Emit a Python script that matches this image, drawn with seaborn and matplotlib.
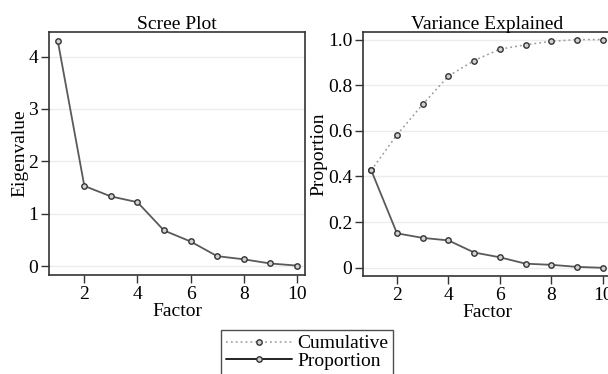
import matplotlib
matplotlib.use("Agg")
import matplotlib.pyplot as plt
import seaborn as sns
import pandas as pd
from matplotlib.lines import Line2D
from matplotlib.ticker import FuncFormatter

factors = [1, 2, 3, 4, 5, 6, 7, 8, 9, 10]
eigenvalues = [4.30, 1.53, 1.33, 1.22, 0.68, 0.47, 0.19, 0.13, 0.05, 0.01]
cumulative = [0.427, 0.583, 0.716, 0.840, 0.908, 0.958, 0.977, 0.992, 1.0, 1.0]
proportion = [0.427, 0.151, 0.131, 0.120, 0.067, 0.046, 0.018, 0.013, 0.004, 0.0]

sns.set_theme(style="white")
plt.rcParams['font.family'] = ['Liberation Serif', 'DejaVu Serif']
plt.rcParams['font.size'] = 14
plt.rcParams['text.color'] = 'black'
plt.rcParams['axes.labelcolor'] = 'black'
plt.rcParams['xtick.color'] = 'black'
plt.rcParams['ytick.color'] = 'black'

fig = plt.figure(figsize=(6.08, 3.74), dpi=100)
ax1 = fig.add_axes([0.0806, 0.2647, 0.421, 0.65])
ax2 = fig.add_axes([0.5975, 0.262, 0.407, 0.653])

line_c = "#5a5a5a"
mk = dict(marker="o", markersize=3.9, markerfacecolor="#d0d0d0",
          markeredgecolor="#333333", markeredgewidth=1.0)

df1 = pd.DataFrame({"Factor": factors, "Eigenvalue": eigenvalues})
sns.lineplot(data=df1, x="Factor", y="Eigenvalue", ax=ax1, color=line_c,
             linewidth=1.3, **mk)

df2 = pd.DataFrame({"Factor": factors, "Cumulative": cumulative, "Proportion": proportion})
sns.lineplot(data=df2, x="Factor", y="Cumulative", ax=ax2, color="#9a9a9a",
             linewidth=1.1, linestyle=(0, (1.2, 2.0)), **mk)
sns.lineplot(data=df2, x="Factor", y="Proportion", ax=ax2, color=line_c,
             linewidth=1.3, **mk)

for ax in (ax1, ax2):
    for s in ax.spines.values():
        s.set_color("#333333")
        s.set_linewidth(1.2)
    ax.tick_params(axis="both", which="major", direction="out", length=6,
                   width=1.0, color="#333333", labelcolor="black", labelsize=14,
                   pad=2, bottom=True, left=True)
    ax.grid(axis="y", color="#ececec", linewidth=1.0)
    ax.grid(axis="x", visible=False)
    ax.set_xticks([2, 4, 6, 8, 10])
    ax.set_xlabel("Factor", fontsize=14, labelpad=0)

ax1.set_xlim(0.67, 10.31)
ax1.set_ylim(-0.17, 4.47)
ax1.set_yticks([0, 1, 2, 3, 4])
ax1.set_ylabel("Eigenvalue", fontsize=14, labelpad=-0.5)
ax1.set_title("Scree Plot", fontsize=14, pad=2)

ax2.set_xlim(0.69, 10.31)
ax2.set_ylim(-0.036, 1.034)
ax2.set_yticks([0, 0.2, 0.4, 0.6, 0.8, 1.0])
ax2.yaxis.set_major_formatter(FuncFormatter(lambda v, p: "0" if abs(v) < 1e-9 else f"{v:.1f}"))
ax2.set_ylabel("Proportion", fontsize=14, labelpad=0.5)
ax2.set_title("Variance Explained", fontsize=14, pad=2)

handles = [
    Line2D([], [], color="#9a9a9a", linewidth=1.1, linestyle=(0, (1.2, 2.0)), **mk),
    Line2D([], [], color="#222222", linewidth=1.4, **mk),
]
leg = fig.legend(handles, ["Cumulative", "Proportion"], loc="upper center",
                 bbox_to_anchor=(0.505, 0.1176), frameon=True, fancybox=False,
                 fontsize=14, handlelength=3.4, handletextpad=0.3,
                 borderpad=0.25, labelspacing=0.0, borderaxespad=0)
leg.get_frame().set_edgecolor("#222222")
leg.get_frame().set_linewidth(1.0)

fig.savefig("out.png", dpi=100)
